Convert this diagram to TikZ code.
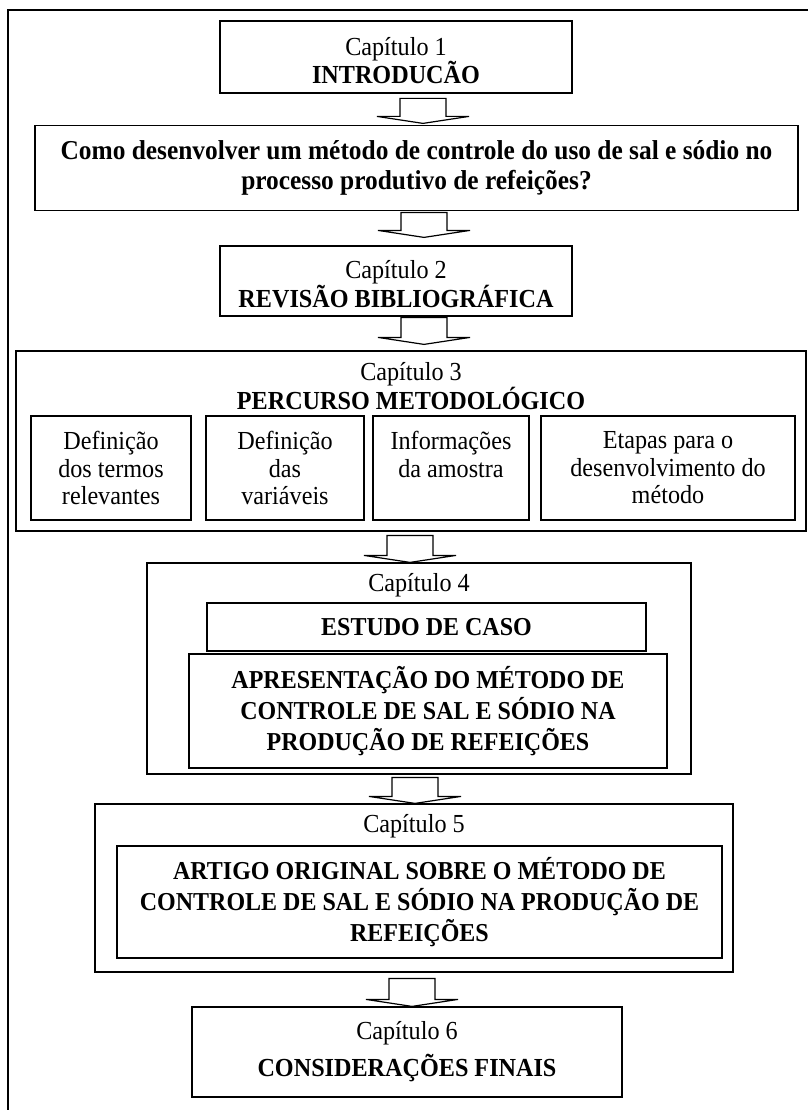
\documentclass[tikz,border=0pt]{standalone}
\usepackage{fontspec}
\setmainfont{Liberation Serif}[FakeStretch=0.93]

\newcommand{\txt}{\fontsize{26}{27.5}\selectfont}
\newcommand{\txtb}{\fontsize{25.8}{31}\selectfont\bfseries}

\tikzset{
  caixa/.style={draw, line width=1.2pt, rectangle, inner sep=0pt, align=center, font=\txt},
  titulo/.style={align=center, inner sep=0pt, font=\txt},
  seta/.pic={\draw[line width=1.2pt] (0,0) -- (46,-7) -- (23,-7) -- (23,-#1) -- (-23,-#1) -- (-23,-7) -- (-46,-7) -- cycle;}
}

\begin{document}
\begin{tikzpicture}[x=1pt,y=-1pt]
\useasboundingbox (0,0) rectangle (808,1110);
\draw[line width=1.4pt] (8,1110) -- (8,10) -- (808,10);

\node[caixa, minimum width=352pt, minimum height=72pt] (cap1) at (396,57) {};
\node[titulo, font=\fontsize{26}{28}\selectfont] (tit1) at ([yshift=-4pt]cap1.center) {Capítulo 1\\ \textbf{INTRODUCÃO}};
\node[caixa, minimum width=763pt, minimum height=85pt, font=\fontsize{27.3}{30}\selectfont\bfseries] (pergunta) at (416.5,168)
  {Como desenvolver um método de controle do uso de sal e sódio no\\ processo produtivo de refeições?};
\node[caixa, minimum width=352pt, minimum height=70pt] (cap2) at (396,281) {};
\node[titulo] (tit2) at ([yshift=-3pt]cap2.center) {Capítulo 2\\ \textbf{REVISÃO BIBLIOGRÁFICA}};

% capitulo 3
\node[caixa, minimum width=790pt, minimum height=180pt] (cap3) at (411,441) {};
\node[titulo, font=\fontsize{26}{27}\selectfont] (tit3) at (411,386) {Capítulo 3\\ \textbf{PERCURSO METODOLÓGICO}};
\node[caixa, minimum width=160pt, minimum height=104pt] (termos) at (111,468) {Definição\\ dos termos\\ relevantes};
\node[caixa, minimum width=158pt, minimum height=104pt] (variaveis) at (285,468) {Definição\\ das\\ variáveis};
\node[caixa, minimum width=156pt, minimum height=104pt] (amostra) at (451,468) {Informações\\ da amostra\\ \phantom{x}};
\node[caixa, minimum width=254pt, minimum height=104pt] (etapas) at (668,468) {Etapas para o\\ desenvolvimento do\\ método};

% capitulo 4
\node[caixa, minimum width=544pt, minimum height=211pt] (cap4) at (419,668.5) {};
\node[titulo] (tit4) at (419,585) {Capítulo 4};
\node[caixa, minimum width=439pt, minimum height=48pt, font=\txtb] (estudo) at (426.5,627) {ESTUDO DE CASO};
\node[caixa, minimum width=478pt, minimum height=114pt, font=\txtb] (apresent) at (428,711)
  {APRESENTAÇÃO DO MÉTODO DE\\ CONTROLE DE SAL E SÓDIO NA\\ PRODUÇÃO DE REFEIÇÕES};

% capitulo 5
\node[caixa, minimum width=638pt, minimum height=168pt] (cap5) at (414,888) {};
\node[titulo] (tit5) at (414,826) {Capítulo 5};
\node[caixa, minimum width=605pt, minimum height=112pt, font=\txtb] (artigo) at (419.5,902)
  {ARTIGO ORIGINAL SOBRE O MÉTODO DE\\ CONTROLE DE SAL E SÓDIO NA PRODUÇÃO DE\\ REFEIÇÕES};

% capitulo 6
\node[caixa, minimum width=430pt, minimum height=90pt] (cap6) at (407,1052) {Capítulo 6\\[8pt] \textbf{CONSIDERAÇÕES FINAIS}};

% setas
\pic at ([xshift=6.5pt,yshift=1.5pt]pergunta.north) {seta=25};
\pic at ([xshift=28pt,yshift=8pt]cap2.north) {seta=25};
\pic at ([xshift=13pt,yshift=6pt]cap3.north) {seta=27};
\pic at ([xshift=-9pt]cap4.north) {seta=27};
\pic at ([xshift=1pt]cap5.north) {seta=26};
\pic at ([xshift=5pt]cap6.north) {seta=28};
\end{tikzpicture}
\end{document}
